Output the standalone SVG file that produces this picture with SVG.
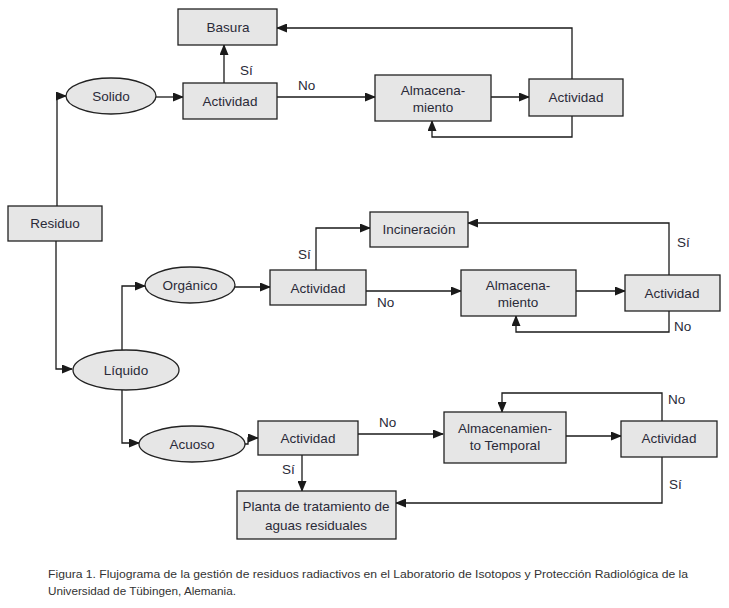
<svg xmlns="http://www.w3.org/2000/svg" width="729" height="608" viewBox="0 0 729 608">
<defs>
<marker id="ah" markerWidth="11" markerHeight="9" refX="10" refY="4.5" orient="auto" markerUnits="userSpaceOnUse">
<path d="M0,0 L11,4.5 L0,9 Z" fill="#1a1a1a"/>
</marker>
<style>
.box{fill:#e6e6e6;stroke:#222;stroke-width:1.3}
.t{font-family:"Liberation Sans",Arial,sans-serif;font-size:13.5px;fill:#2a2a38;text-anchor:middle}
.l{font-family:"Liberation Sans",Arial,sans-serif;font-size:13.5px;fill:#2a2a38}
.c{fill:none;stroke:#1a1a1a;stroke-width:1.3;marker-end:url(#ah)}
.cap{font-family:"Liberation Sans",Arial,sans-serif;font-size:11px;fill:#333}
</style>
</defs>
<rect width="729" height="608" fill="#fff"/>
<g id="connectors">
<path class="c" d="M57,206 V96 H66"/>
<path class="c" d="M156,97 H183"/>
<path class="c" d="M224,83 V45"/>
<path class="c" d="M277,97 H375"/>
<path class="c" d="M491,97 H529"/>
<path class="c" d="M572,79 V28 H277"/>
<path class="c" d="M572,116 V137 H432 V121"/>
<path class="c" d="M56,241 V369 H72"/>
<path class="c" d="M122,350 V286 H145"/>
<path class="c" d="M235,287 H270"/>
<path class="c" d="M316,270 V228 H370"/>
<path class="c" d="M366,291 H461"/>
<path class="c" d="M576,291 H625"/>
<path class="c" d="M669,275 V223 H468"/>
<path class="c" d="M669,311 V332 H516 V316"/>
<path class="c" d="M122,390 V443 H139"/>
<path class="c" d="M245,444 H248 V438 H258"/>
<path class="c" d="M358,434 H443"/>
<path class="c" d="M302,455 V491"/>
<path class="c" d="M566,436 H621"/>
<path class="c" d="M662,421 V393 H502 V412"/>
<path class="c" d="M662,457 V503 H396"/>
</g>
<g id="labels">
<text class="l" x="240" y="75">Sí</text>
<text class="l" x="298" y="90">No</text>
<text class="l" x="298" y="259">Sí</text>
<text class="l" x="377" y="307">No</text>
<text class="l" x="677" y="247">Sí</text>
<text class="l" x="674" y="331">No</text>
<text class="l" x="379" y="427">No</text>
<text class="l" x="282" y="474">Sí</text>
<text class="l" x="668" y="404">No</text>
<text class="l" x="669" y="489">Sí</text>
</g>
<g id="basura"><rect class="box" x="178" y="9" width="99" height="36"/><text class="t" x="228" y="32">Basura</text></g>
<g id="solido"><ellipse class="box" cx="111" cy="96" rx="45" ry="18"/><text class="t" x="111" y="101">Solido</text></g>
<g id="actividad1"><rect class="box" x="183" y="83" width="94" height="36"/><text class="t" x="230" y="106">Actividad</text></g>
<g id="almacenamiento1"><rect class="box" x="375" y="75" width="116" height="46"/><text class="t" x="433" y="95">Almacena-</text><text class="t" x="433" y="112">miento</text></g>
<g id="actividad2"><rect class="box" x="529" y="79" width="94" height="37"/><text class="t" x="576" y="102">Actividad</text></g>
<g id="residuo"><rect class="box" x="8" y="206" width="94" height="35"/><text class="t" x="55" y="228">Residuo</text></g>
<g id="incineracion"><rect class="box" x="370" y="212" width="98" height="35"/><text class="t" x="419" y="234">Incineración</text></g>
<g id="organico"><ellipse class="box" cx="190" cy="285" rx="45" ry="18"/><text class="t" x="190" y="290">Orgánico</text></g>
<g id="actividad3"><rect class="box" x="270" y="270" width="96" height="35"/><text class="t" x="318" y="293">Actividad</text></g>
<g id="almacenamiento2"><rect class="box" x="461" y="270" width="115" height="46"/><text class="t" x="518" y="290">Almacena-</text><text class="t" x="518" y="307">miento</text></g>
<g id="actividad4"><rect class="box" x="625" y="275" width="95" height="36"/><text class="t" x="672" y="298">Actividad</text></g>
<g id="liquido"><ellipse class="box" cx="126" cy="370" rx="53" ry="20"/><text class="t" x="126" y="375">Líquido</text></g>
<g id="acuoso"><ellipse class="box" cx="192" cy="444" rx="53" ry="18"/><text class="t" x="192" y="449">Acuoso</text></g>
<g id="actividad5"><rect class="box" x="258" y="421" width="100" height="34"/><text class="t" x="308" y="443">Actividad</text></g>
<g id="almacenamiento_temporal"><rect class="box" x="444" y="412" width="122" height="51"/><text class="t" x="505" y="433">Almacenamien-</text><text class="t" x="505" y="450">to Temporal</text></g>
<g id="actividad6"><rect class="box" x="621" y="421" width="96" height="36"/><text class="t" x="669" y="443">Actividad</text></g>
<g id="planta"><rect class="box" x="237" y="491" width="159" height="48"/><text class="t" x="316" y="511">Planta de tratamiento de</text><text class="t" x="316" y="530">aguas residuales</text></g>
<g id="caption">
<text class="cap" x="48" y="578" textLength="640" lengthAdjust="spacingAndGlyphs">Figura 1. Flujograma de la gestión de residuos radiactivos en el Laboratorio de Isotopos y Protección Radiológica de la</text>
<text class="cap" x="48" y="595" textLength="188" lengthAdjust="spacingAndGlyphs">Universidad de Tübingen, Alemania.</text>
</g>
</svg>
